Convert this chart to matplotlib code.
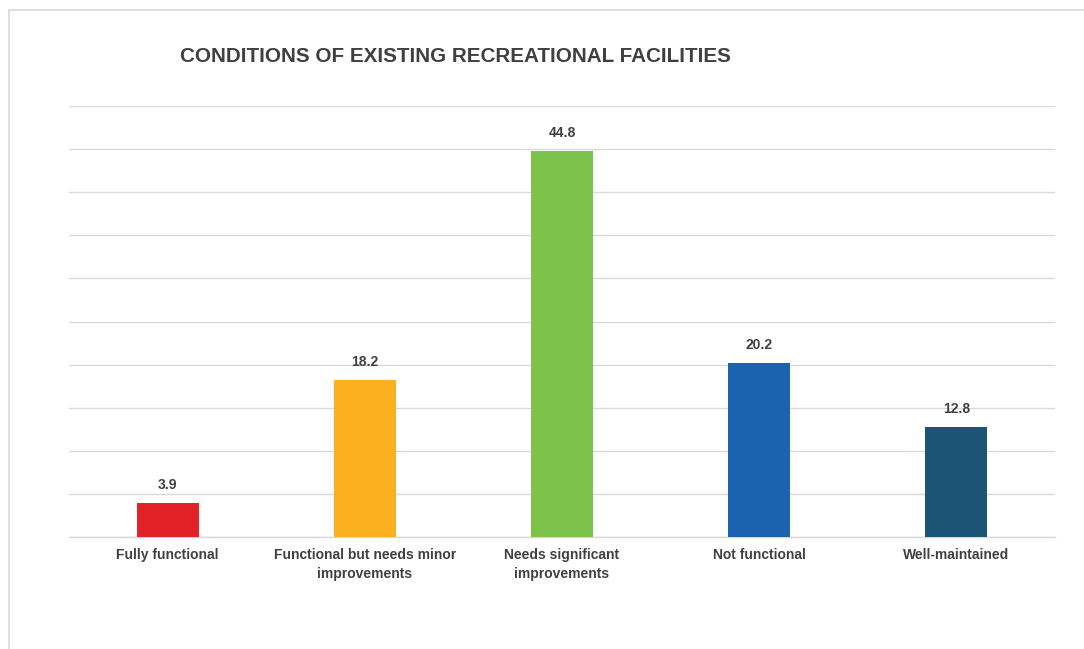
import matplotlib
matplotlib.use("Agg")
import matplotlib.pyplot as plt
from matplotlib.patches import Rectangle

categories = ["Fully functional", "Functional but needs minor\nimprovements",
              "Needs significant\nimprovements", "Not functional", "Well-maintained"]
values = [3.9, 18.2, 44.8, 20.2, 12.8]
colors = ["#E32227", "#FBB01F", "#7DC24B", "#1C63AF", "#1B5474"]
title = "CONDITIONS OF EXISTING RECREATIONAL FACILITIES"

plt.rcParams["font.family"] = ["Liberation Sans", "DejaVu Sans"]

fig = plt.figure(figsize=(10.84, 6.49), dpi=100)
fig.patch.set_facecolor("white")

# chart frame
fig.patches.append(Rectangle((9 / 1084, -0.1), 1.2, 1 - 10 / 649 + 0.1,
                             transform=fig.transFigure, fill=False,
                             edgecolor="#D9D9D9", linewidth=1.2))

ax = fig.add_axes([69 / 1084, 1 - 537 / 649, (1055 - 69) / 1084, (537 - 106) / 649])
x = range(len(categories))
bars = ax.bar(x, values, width=0.315, color=colors, zorder=3)
ax.set_ylim(0, 50)
ax.set_xlim(-0.5, len(categories) - 0.5)
ax.set_yticks(range(0, 51, 5))
ax.yaxis.grid(True, color="#D9D9D9", linewidth=1.0, zorder=0)
ax.tick_params(axis="y", left=False, labelleft=False)
ax.tick_params(axis="x", bottom=False, pad=4.5)
ax.set_xticks(list(x))
ax.set_xticklabels(categories, fontsize=10, color="#404040", fontweight="bold",
                   linespacing=1.45)
for s in ["top", "right", "left"]:
    ax.spines[s].set_visible(False)
ax.spines["bottom"].set_color("#D9D9D9")
ax.spines["bottom"].set_linewidth(1.0)

ax.bar_label(bars, labels=[f"{v:.1f}" for v in values], padding=8,
             fontsize=10, fontweight="bold", color="#404040")

fig.text(180 / 1084, 1 - 57 / 649, title, fontsize=14.9, color="#404040",
         fontweight="bold", ha="left", va="center")

fig.savefig("out.png", dpi=100, facecolor="white")
